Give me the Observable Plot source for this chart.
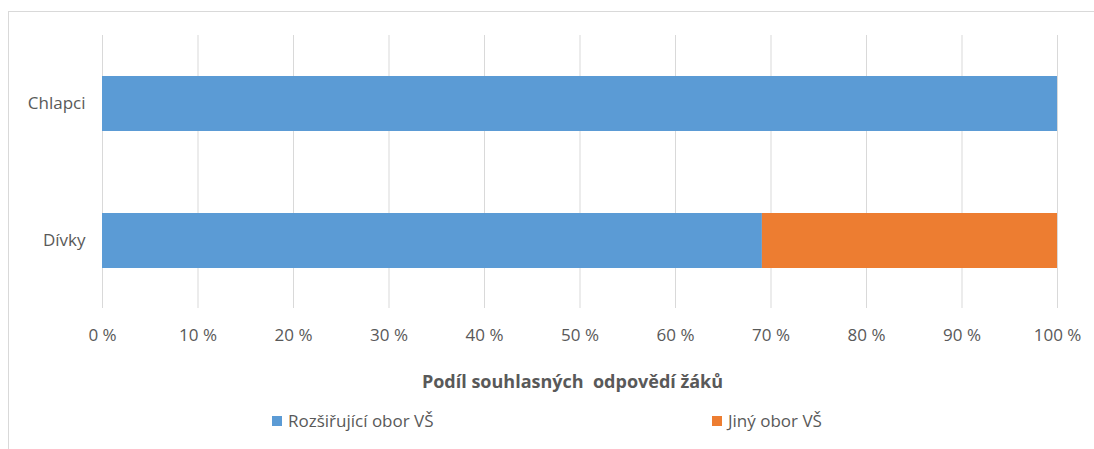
<!DOCTYPE html>
<html>
<head>
<meta charset="utf-8">
<script src="https://cdn.jsdelivr.net/npm/d3@7"></script>
<script src="https://cdn.jsdelivr.net/npm/@observablehq/plot@0.6"></script>
<style>
  html, body { margin: 0; padding: 0; background: #fff; }
  #wrap { position: relative; width: 1094px; height: 449px; overflow: hidden; font-family: "Open Sans", sans-serif; }
  #frame { position: absolute; left: 8px; top: 11px; width: 1200px; height: 600px; border-left: 1px solid #d9d9d9; border-top: 1px solid #d9d9d9; }
  #chart { position: absolute; left: 0; top: 0; }
  #title { position: absolute; top: 369px; left: 95px; width: 955px; text-align: center; font-weight: bold; font-size: 18px; color: #595959; white-space: pre; }
  .leg { position: absolute; top: 409px; font-size: 17px; color: #595959; display: flex; align-items: center; white-space: nowrap; }
  .sw { width: 10px; height: 10px; margin-right: 6px; }
</style>
</head>
<body>
<div id="wrap">
  <div id="frame"></div>
  <div id="chart"></div>
  <div id="title"></div>
  <div id="legend"></div>
</div>
<script>
const categories = ["Chlapci", "Dívky"];
const series = ["Rozšiřující obor VŠ", "Jiný obor VŠ"];
const rozsirujici = [100, 69.1];
const jiny = [0, 30.9];
const xTicks = [0, 10, 20, 30, 40, 50, 60, 70, 80, 90, 100];
const axisTitle = "Podíl souhlasných  odpovědí žáků";
const colors = ["#5B9BD5", "#ED7D31"];

const data = [];
categories.forEach((c, i) => {
  data.push({cat: c, series: series[0], value: rozsirujici[i]});
  data.push({cat: c, series: series[1], value: jiny[i]});
});

const chart = Plot.plot({
  width: 1094,
  height: 360,
  marginLeft: 102,
  marginRight: 37,
  marginTop: 35,
  marginBottom: 52,
  style: {fontFamily: "Open Sans, sans-serif", fontSize: "17px", color: "#595959", background: "transparent"},
  x: {domain: [0, 100], ticks: xTicks, tickFormat: d => d + " %"},
  y: {domain: categories, paddingInner: 0.6, paddingOuter: 0.29},
  color: {domain: series, range: colors},
  marks: [
    Plot.gridX(xTicks, {stroke: "#d9d9d9", strokeOpacity: 1, strokeWidth: 1}),
    Plot.barX(data, Plot.stackX({y: "cat", x: "value", fill: "series", order: series})),
    Plot.axisX({ticks: xTicks, tickFormat: d => d + " %", tickSize: 0, tickPadding: 20, label: null, fill: "#595959", fontSize: 17}),
    Plot.axisY({tickSize: 0, tickPadding: 17, label: null, fill: "#595959", fontSize: 17})
  ]
});
document.getElementById("chart").appendChild(chart);
document.getElementById("title").textContent = axisTitle;

const legend = document.getElementById("legend");
const legLeft = [272, 712];
series.forEach((s, i) => {
  const d = document.createElement("div");
  d.className = "leg";
  d.style.left = legLeft[i] + "px";
  const sw = document.createElement("div");
  sw.className = "sw";
  sw.style.background = colors[i];
  d.appendChild(sw);
  const t = document.createElement("span");
  t.textContent = s;
  d.appendChild(t);
  legend.appendChild(d);
});
</script>
</body>
</html>
